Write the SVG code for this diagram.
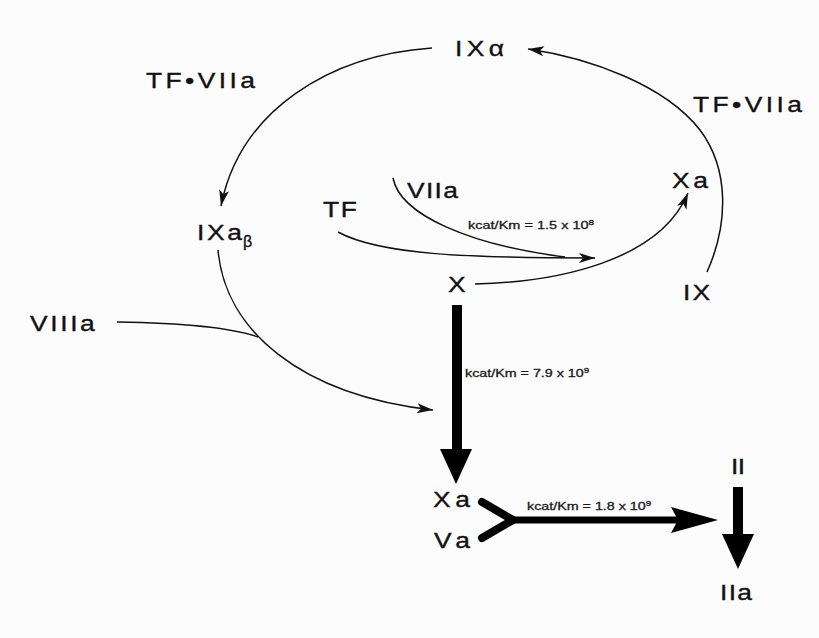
<svg xmlns="http://www.w3.org/2000/svg" width="819" height="638" viewBox="0 0 819 638">
  <style>
    .lbl { font-family: "Liberation Sans", Arial, sans-serif; font-size: 22px; fill: #111; stroke: #111; stroke-width: 0.35; }
    .rate { font-family: "Liberation Sans", Arial, sans-serif; font-size: 11px; fill: #1a1a1a; stroke: #1a1a1a; stroke-width: 0.3; }
    .sup { font-size: 7.5px; }
    .thin { fill: none; stroke: #111; stroke-width: 1.5; }
    .thick { fill: #000; stroke: none; }
  </style>
  <defs>
    <marker id="arrow" markerUnits="userSpaceOnUse" markerWidth="18" markerHeight="12" refX="16" refY="6" orient="auto">
      <path d="M0,1 L16,6 L0,11 L4,6 Z" fill="#111"/>
    </marker>
  </defs>
  <rect x="0" y="0" width="819" height="638" fill="#fcfcfc"/>

  <!-- connectors -->
  <g id="connectors">
    <!-- IX -> IXa alpha (TF.VIIa) -->
    <path class="thin" d="M707,272 C728,225 730,170 700,130 C665,85 590,58 528,49" marker-end="url(#arrow)"/>
    <!-- IXa alpha -> IXa beta (TF.VIIa) -->
    <path class="thin" d="M432,48 C330,55 240,110 221,206" marker-end="url(#arrow)"/>
    <!-- IXa beta + VIIIa -> intrinsic tenase -->
    <path class="thin" d="M218,250 C225,330 300,395 433,410" marker-end="url(#arrow)"/>
    <path class="thin" d="M117,322 C180,323 230,327 258,337"/>
    <!-- TF + VIIa -> extrinsic tenase -->
    <path class="thin" d="M338,232 C380,255 470,258 595,258" marker-end="url(#arrow)"/>
    <path class="thin" d="M393,178 C400,215 470,245 565,257"/>
    <!-- X -> Xa -->
    <path class="thin" d="M475,284 C560,282 660,260 688,193" marker-end="url(#arrow)"/>
    <!-- X -> Xa, thick -->
    <rect class="thick" x="452" y="305" width="10" height="146"/>
    <path class="thick" d="M440,449 L472,449 L456,484 Z"/>
    <!-- Xa + Va -> prothrombinase -->
    <path d="M482,502 L513,520 L482,538" fill="none" stroke="#000" stroke-width="8" stroke-linecap="round" stroke-linejoin="miter"/>
    <rect class="thick" x="512" y="516.5" width="166" height="7"/>
    <path class="thick" d="M671,507 L718,520 L671,533 L678,520 Z"/>
    <!-- II -> IIa -->
    <rect class="thick" x="733" y="487" width="10" height="50"/>
    <path class="thick" d="M722,534 L754,534 L738,569 Z"/>
  </g>

  <!-- nodes (labels are drawn horizontally widened) -->
  <g id="node-IXalpha"><text class="lbl" transform="translate(455,56) scale(1.2,1)" textLength="40.8" lengthAdjust="spacing">IXα</text></g>
  <g id="node-TFVIIa-left"><text class="lbl" transform="translate(146,88) scale(1.2,1)" textLength="90.8" lengthAdjust="spacing">TF•VIIa</text></g>
  <g id="node-TFVIIa-right"><text class="lbl" transform="translate(693,112) scale(1.2,1)" textLength="90.8" lengthAdjust="spacing">TF•VIIa</text></g>
  <g id="node-Xa-top"><text class="lbl" transform="translate(672,188) scale(1.2,1)" textLength="30" lengthAdjust="spacing">Xa</text></g>
  <g id="node-VIIa"><text class="lbl" transform="translate(407,198) scale(1.2,1)" textLength="42.5" lengthAdjust="spacing">VIIa</text></g>
  <g id="node-TF"><text class="lbl" transform="translate(323,217) scale(1.2,1)" textLength="28.3" lengthAdjust="spacing">TF</text></g>
  <g id="node-IXabeta">
    <text class="lbl" transform="translate(197,240) scale(1.2,1)" textLength="37.5" lengthAdjust="spacing">IXa</text>
    <text class="lbl" x="243" y="247" style="font-size:16px">β</text>
  </g>
  <g id="rate-extrinsic"><text class="rate" transform="translate(468,229) scale(1.32,1)">kcat/Km = 1.5 x 10<tspan class="sup" dy="-4.5">8</tspan></text></g>
  <g id="node-X"><text class="lbl" transform="translate(448,292) scale(1.2,1)">X</text></g>
  <g id="node-IX"><text class="lbl" transform="translate(683,300) scale(1.2,1)" textLength="22.5" lengthAdjust="spacing">IX</text></g>
  <g id="node-VIIIa"><text class="lbl" transform="translate(30,331) scale(1.2,1)" textLength="54" lengthAdjust="spacing">VIIIa</text></g>
  <g id="rate-intrinsic"><text class="rate" transform="translate(465,377) scale(1.3,1)">kcat/Km = 7.9 x 10<tspan class="sup" dy="-4.5">9</tspan></text></g>
  <g id="node-Xa-bottom"><text class="lbl" transform="translate(433,507) scale(1.2,1)" textLength="30.8" lengthAdjust="spacing">Xa</text></g>
  <g id="node-Va"><text class="lbl" transform="translate(434,548) scale(1.2,1)" textLength="30" lengthAdjust="spacing">Va</text></g>
  <g id="rate-prothrombinase"><text class="rate" transform="translate(527,510) scale(1.3,1)">kcat/Km = 1.8 x 10<tspan class="sup" dy="-4.5">9</tspan></text></g>
  <g id="node-II"><text class="lbl" transform="translate(731,474) scale(1.2,1)" textLength="11.7" lengthAdjust="spacing">II</text></g>
  <g id="node-IIa"><text class="lbl" transform="translate(720,600) scale(1.2,1)" textLength="26.7" lengthAdjust="spacing">IIa</text></g>
</svg>
